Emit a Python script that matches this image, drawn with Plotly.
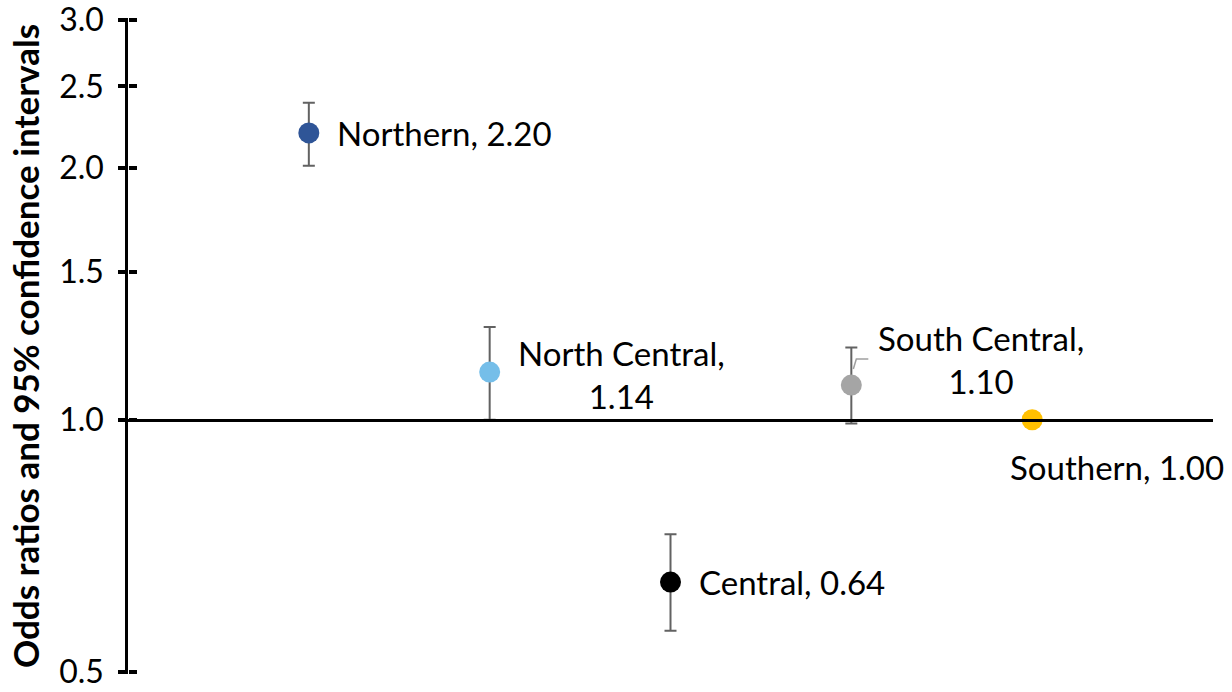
import math
import plotly.graph_objects as go

# ---- data ----
regions = ["Northern", "North Central", "Central", "South Central", "Southern"]
x_pos = [1, 2, 3, 4, 5]
odds = [2.20, 1.14, 0.64, 1.10, 1.00]
ci_low = [2.01, 1.00, 0.56, 0.99, 1.00]
ci_high = [2.39, 1.29, 0.73, 1.22, 1.00]
has_ci = [True, True, True, True, False]
colors = ["#2F5597", "#75BEE9", "#000000", "#A5A5A5", "#FFC000"]
label_text = ["Northern, 2.20", "North Central,<br>1.14", "Central, 0.64",
              "South Central,<br>1.10", "Southern, 1.00"]
y_ticks = [0.5, 1.0, 1.5, 2.0, 2.5, 3.0]
y_tick_text = ["0.5", "1.0", "1.5", "2.0", "2.5", "3.0"]
y_min, y_max = 0.5, 3.0
ref_value = 1.0

# label offsets in pixels (position only)
lab_xshift = [26, 26, 26, 25, 85]
lab_yshift = [0, -2, 0, 26, -47]
lab_xanchor = ["left", "left", "left", "left", "center"]

FONT = "Lato"
fig = go.Figure()

for i in range(len(regions)):
    err = dict(type="data", symmetric=False,
               array=[ci_high[i] - odds[i]], arrayminus=[odds[i] - ci_low[i]],
               color="#626262", thickness=2, width=6) if has_ci[i] else None
    fig.add_trace(go.Scatter(
        x=[x_pos[i]], y=[odds[i]], mode="markers",
        marker=dict(size=21, color=colors[i]),
        error_y=err, showlegend=False, name=regions[i], hoverinfo="skip"))

# invisible trace on overlay axis (for crossing ticks)
fig.add_trace(go.Scatter(x=x_pos, y=odds, mode="markers", yaxis="y2",
                         marker=dict(opacity=0), showlegend=False, hoverinfo="skip"))

for i in range(len(regions)):
    fig.add_annotation(x=x_pos[i], y=math.log10(odds[i]), text=label_text[i],
                       showarrow=False, xanchor=lab_xanchor[i], yanchor="middle",
                       xshift=lab_xshift[i], yshift=lab_yshift[i], align="center",
                       font=dict(family=FONT, size=33, color="#000000"))

# leader line for South Central label (shapes on log axes use data values)
fig.add_shape(type="path", xref="x", yref="y", xsizemode="pixel", ysizemode="pixel",
              xanchor=x_pos[3], yanchor=odds[3],
              path="M 2 16 L 5 26 L 17 26", line=dict(color="#A0A0A0", width=1.5),
              layer="above")

pad = 0.0025
lr = [math.log10(y_min) - pad, math.log10(y_max) + pad]
xpos_frac = (math.log10(ref_value) - lr[0]) / (lr[1] - lr[0])

fig.update_layout(
    width=1232, height=692,
    margin=dict(l=128, r=19, t=18, b=18),
    plot_bgcolor="white", paper_bgcolor="white",
    xaxis=dict(range=[0, 6], showgrid=False, zeroline=False, showticklabels=False,
               ticks="", showline=True, linecolor="#000000", linewidth=3,
               anchor="free", position=xpos_frac, automargin=False),
    yaxis=dict(type="log", range=lr, tickvals=y_ticks, ticktext=y_tick_text,
               showgrid=False, zeroline=False, showline=True, linecolor="#000000",
               linewidth=2.5, ticks="outside", ticklen=7, tickwidth=3.5,
               tickcolor="#000000", ticklabelstandoff=8, ticklabeloverflow="allow",
               automargin=False,
               tickfont=dict(family=FONT, size=32, color="#000000"),
               title=dict(text="<b>Odds ratios and 95% confidence intervals</b>",
                          font=dict(family=FONT, size=35, color="#000000"),
                          standoff=9)),
    yaxis2=dict(type="log", range=lr, tickvals=y_ticks, overlaying="y", side="right",
                anchor="free", position=0, automargin=False,
                showgrid=False, zeroline=False, showticklabels=False,
                ticks="outside", ticklen=8, tickwidth=3.5, tickcolor="#000000",
                showline=False),
)

fig.write_html("out.html")
